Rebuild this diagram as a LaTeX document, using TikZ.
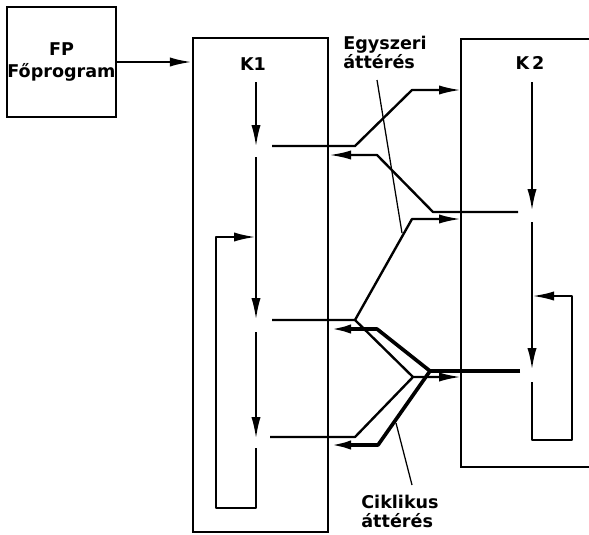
\documentclass[tikz,border=0pt]{standalone}
\usepackage{fontspec}
\setmainfont{DejaVu Sans}
\usetikzlibrary{arrows.meta}

\tikzset{
  box/.style={draw, line width=1.5pt, inner sep=0pt},
  flow/.style={line width=1.7pt, line join=round},
  cyc/.style={line width=2.6pt, line join=round},
  tip/.style={-{Latex[length=5.5mm,width=2.3mm]}},
  pointer/.style={line width=0.9pt},
  lbl/.style={font=\fontsize{12.5}{13.5}\selectfont\bfseries, inner sep=0pt, align=left}
}

\begin{document}
\begin{tikzpicture}[x=0.25mm, y=-0.25mm]
	\useasboundingbox (0,0) rectangle (589,534);
	% blocks
	\node[box, minimum width=27.25mm, minimum height=27.5mm, align=center,
	      font=\fontsize{12.5}{15.5}\selectfont\bfseries] (FP) at (61.5,62) {FP\\Főprogram};
	\node[box, minimum width=33.75mm, minimum height=123.5mm] (K1) at (260.5,285) {};
	\coordinate (K2a) at (589,39);
	\coordinate (K2b) at (461,39);
	\coordinate (K2c) at (461,467);
	\coordinate (K2d) at (589,467);
	\draw[line width=1.5pt] (K2a) -- (K2b) -- (K2c) -- (K2d);
	\node[lbl] (K1t) at (253,64) {K1};
	\node[lbl] (K2t) at (530,63) {K\,2};
	\draw[flow, tip] (FP.east |- 0,62) -- (K1.west |- 0,62);

	% K1 flow
	\coordinate (a0) at (256,82);
	\coordinate (a1) at (256,147);
	\coordinate (a2) at (256,157);
	\coordinate (a3) at (256,320);
	\coordinate (a4) at (256,332);
	\coordinate (a5) at (256,439);
	\coordinate (a6) at (256,448);
	\coordinate (a7) at (256,237);
	\draw[flow, tip] (a0) -- (a1);
	\draw[flow, tip] (a2) -- (a3);
	\draw[flow, tip] (a4) -- (a5);
	\draw[flow, tip] (a6) -- (256,508) -- (216,508) -- (216,237) -- (a7);

	% K2 flow
	\coordinate (b0) at (532,82);
	\coordinate (b1) at (532,211);
	\coordinate (b2) at (532,222);
	\coordinate (b3) at (532,370);
	\coordinate (b4) at (532,382);
	\coordinate (b5) at (532,296);
	\draw[flow, tip] (b0) -- (b1);
	\draw[flow, tip] (b2) -- (b3);
	\draw[flow, tip] (b4) -- (532,440) -- (572,440) -- (572,296) -- (b5);

	% jumps K1 -> K2 and back
	\coordinate (o1) at (272,146);
	\coordinate (o2) at (272,320);
	\coordinate (o3) at (270,437);
	\coordinate (p1) at (518,212);
	\coordinate (p2) at (520,371);
	\coordinate (s1) at (355,320);
	\coordinate (s2) at (413,377);
	\coordinate (s3) at (430,371);
	\draw[flow, tip] (o1) -- (355,146) -- (412,90) -- (K2b |- 0,90);
	\draw[flow, tip] (p1) -- (433,212) -- (377,155) -- (K1.east |- 0,155);
	\draw[flow, tip] (o2) -- (s1) -- (412,219) -- (K2b |- 0,219);
	\draw[flow] (s1) -- (s2);
	\draw[flow, tip] (o3) -- (355,437) -- (s2) -- (K2b |- 0,377);
	\draw[cyc] (p2) -- (s3);
	\draw[cyc, tip] (s3) -- (377,329) -- (K1.east |- 0,329);
	\draw[cyc, tip] (s3) -- (378,445) -- (K1.east |- 0,445);

	% labels
	\node[lbl, anchor=north west] (egy) at (343,36) {Egyszeri\\áttérés};
	\node[lbl, anchor=north] (cik) at (400,495) {Ciklikus\\áttérés};
	\coordinate (e1) at (377,80);
	\coordinate (e2) at (402,233);
	\coordinate (c1) at (412,485);
	\coordinate (c2) at (396,423);
	\draw[pointer] (e1) -- (e2);
	\draw[pointer] (c1) -- (c2);
\end{tikzpicture}
\end{document}
